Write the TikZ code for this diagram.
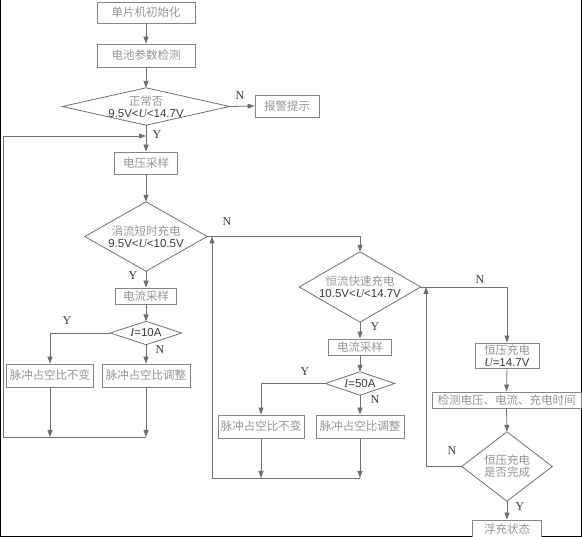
\documentclass[tikz,border=0pt]{standalone}
\usepackage{fontspec}
\setmainfont{Liberation Serif}
\newfontfamily\cjk{Noto Sans CJK SC}
\newfontfamily\numf{Liberation Sans}
\usetikzlibrary{arrows.meta}
\definecolor{ln}{HTML}{707070}
\definecolor{bx}{HTML}{858585}
\definecolor{tx}{HTML}{959595}
\definecolor{nm}{HTML}{3A3A3A}
\newcommand{\vv}[1]{\textcolor{nm}{\numf #1}}
\newcommand{\UU}{{\rmfamily\itshape U}}
\newcommand{\II}{{\rmfamily\itshape I}}
\begin{document}
\begin{tikzpicture}[x=1pt,y=-1pt,
  box/.style={draw=bx, line width=0.8pt, fill=white, inner sep=0pt, align=center,
    font=\cjk\fontsize{11.5}{12}\selectfont, text=tx},
  dia/.style={inner sep=0pt, align=center, font=\cjk\fontsize{11.5}{12}\selectfont, text=tx},
  line/.style={draw=ln, line width=0.8pt},
  arr/.style={line, -{Triangle[length=7pt,width=5pt]}},
  lab/.style={font=\fontsize{12}{13}\selectfont, text=nm, inner sep=0pt}]
\useasboundingbox (0,0) rectangle (582,537);
% frame
\draw[black, line width=1.2pt] (0.6,0) -- (0.6,536.4) -- (581.4,536.4) -- (581.4,0);

% ---- left column
\node[box, minimum width=98pt, minimum height=21pt] (init) at (146,12.5) {单片机初始化};
\node[box, minimum width=98pt, minimum height=23pt] (detect) at (146,55.5) {电池参数检测};
\node[dia, minimum width=167pt, minimum height=37pt] (d1) at (146,106.5) {正常否\\\vv{9.5V<\UU<14.7V}};
\draw[line] (d1.north) -- (d1.east) -- (d1.south) -- (d1.west) -- cycle;
\node[box, minimum width=64pt, minimum height=22pt] (alarm) at (287,106) {报警提示};
\node[box, minimum width=63pt, minimum height=22pt] (vsamp) at (146,163) {电压采样};
\node[dia, minimum width=122pt, minimum height=69pt] (d2) at (146,236.5) {涓流短时充电\\\vv{9.5V<\UU<10.5V}};
\draw[line] (d2.north) -- (d2.east) -- (d2.south) -- (d2.west) -- cycle;
\node[box, minimum width=61pt, minimum height=16pt] (isamp1) at (146,296) {电流采样};
\node[dia, minimum width=71pt, minimum height=23pt] (d3) at (146,333) {\vv{\II=10A}};
\draw[line] (d3.north) -- (d3.east) -- (d3.south) -- (d3.west) -- cycle;
\node[box, minimum width=87pt, minimum height=23pt] (pa1) at (50,375.5) {脉冲占空比不变};
\node[box, minimum width=88pt, minimum height=23pt] (pb1) at (146,375.5) {脉冲占空比调整};
\coordinate (m1) at (146,437);
\coordinate (lb1) at (3,437);
\coordinate (j1) at (146,136);

% ---- middle column
\node[dia, minimum width=121pt, minimum height=70pt] (d4) at (360,287) {恒流快速充电\\\vv{10.5V<\UU<14.7V}};
\draw[line] (d4.north) -- (d4.east) -- (d4.south) -- (d4.west) -- cycle;
\node[box, minimum width=63pt, minimum height=16pt] (isamp2) at (360,347) {电流采样};
\node[dia, minimum width=69pt, minimum height=23pt] (d5) at (360,383.5) {\vv{\II=50A}};
\draw[line] (d5.north) -- (d5.east) -- (d5.south) -- (d5.west) -- cycle;
\node[box, minimum width=86pt, minimum height=23pt] (pa2) at (261,426.5) {脉冲占空比不变};
\node[box, minimum width=88pt, minimum height=23pt] (pb2) at (360,426.5) {脉冲占空比调整};
\coordinate (m2) at (360,478);
\coordinate (lb2) at (212,478);

% ---- right column
\node[box, minimum width=64pt, minimum height=25pt] (cv) at (507,355.5) {恒压充电\\\vv{\UU=14.7V}};
\node[box, minimum width=149pt, minimum height=16pt] (det) at (506.5,400) {检测电压、电流、充电时间};
\node[dia, minimum width=90pt, minimum height=69pt] (d6) at (507,466.5) {恒压充电\\是否完成};
\draw[line] (d6.north) -- (d6.east) -- (d6.south) -- (d6.west) -- cycle;
\node[box, minimum width=69pt, minimum height=19pt] (fl) at (507,529.5) {浮充状态};
\coordinate (lb3) at (426,466.5);

% ---- connectors
\draw[arr] (init.south) -- (detect.north);
\draw[arr] (detect.south) -- (d1.north);
\draw[arr] (d1.east) -- (alarm.west);
\draw[arr] (d1.south) -- (vsamp.north);
\draw[arr] (vsamp.south) -- (d2.north);
\draw[arr] (d2.south) -- (isamp1.north);
\draw[arr] (isamp1.south) -- (d3.north);
\draw[arr] (d3.west) -| (pa1.north);
\draw[arr] (d3.south) -- (pb1.north);
\draw[arr] (pa1.south) -- (pa1.south |- m1);
\draw[arr] (pb1.south) -- (m1);
\draw[arr] (m1) -- (lb1) -- (lb1 |- j1) -- (j1);

\draw[arr] (d2.east) -| (d4.north);
\draw[arr] (d4.south) -- (isamp2.north);
\draw[arr] (isamp2.south) -- (d5.north);
\draw[arr] (d5.west) -| (pa2.north);
\draw[arr] (d5.south) -- (pb2.north);
\draw[arr] (pa2.south) -- (pa2.south |- m2);
\draw[arr] (pb2.south) -- (m2);
\draw[arr] (m2) -- (lb2) -- (lb2 |- d2.east);

\draw[arr] (d4.east) -| (cv.north);
\draw[arr] (cv.south) -- (det.north);
\draw[arr] (det.south) -- (d6.north);
\draw[arr] (d6.south) -- (fl.north);
\draw[arr] (d6.west) -- (lb3) -- (lb3 |- d4.east);

% ---- Y / N labels
\node[lab] (n1) at (240,96) {N};
\node[lab] (y1) at (157,135) {Y};
\node[lab] (y2) at (133,276) {Y};
\node[lab] (y3) at (67,321) {Y};
\node[lab] (n3) at (160,350) {N};
\node[lab] (n2) at (227,222) {N};
\node[lab] (y4) at (375,327) {Y};
\node[lab] (y5) at (305,372) {Y};
\node[lab] (n5) at (375,400) {N};
\node[lab] (n4) at (480,280) {N};
\node[lab] (n6) at (452,451) {N};
\node[lab] (y6) at (520,507) {Y};
\end{tikzpicture}
\end{document}
